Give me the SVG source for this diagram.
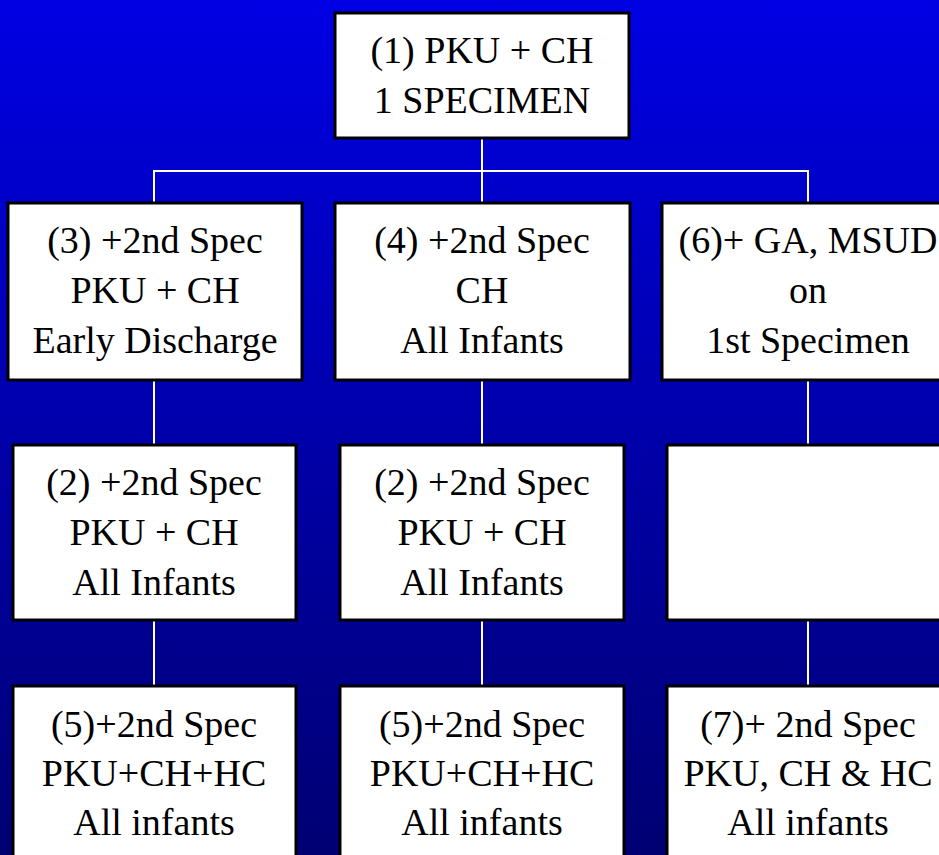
<svg xmlns="http://www.w3.org/2000/svg" width="939" height="855" viewBox="0 0 939 855">
<defs>
<linearGradient id="bg" x1="0" y1="0" x2="0" y2="1">
<stop offset="0" stop-color="#0000E4"/>
<stop offset="1" stop-color="#000072"/>
</linearGradient>
<style>
.box{fill:#fff;stroke:#000;stroke-width:3}
.t{font-size:38px;fill:#000;text-anchor:middle}
.c{stroke:#fff;stroke-width:2;fill:none}
</style>
</defs>
<rect x="0" y="0" width="939" height="855" fill="url(#bg)"/>
<g id="connectors">
<path class="c" d="M482 138V203M154 203V171H808V203M482 171V203"/>
<path class="c" d="M154 380V445M154 620V686"/>
<path class="c" d="M482 380V445M482 620V686"/>
<path class="c" d="M808 380V445M808 620V686"/>
</g>
<g id="nodes" font-family="Liberation Serif, DejaVu Serif, serif">
<g id="n1">
<rect class="box" x="335" y="13" width="294" height="125"/>
<text class="t" x="482" y="63">(1) PKU + CH</text>
<text class="t" x="482" y="113">1 SPECIMEN</text>
</g>
<g id="n3">
<rect class="box" x="8" y="203" width="294" height="177"/>
<text class="t" x="155" y="253">(3) +2nd Spec</text>
<text class="t" x="155" y="303">PKU + CH</text>
<text class="t" x="155" y="353">Early Discharge</text>
</g>
<g id="n4">
<rect class="box" x="335" y="203" width="295" height="177"/>
<text class="t" x="482" y="253">(4) +2nd Spec</text>
<text class="t" x="482" y="303">CH</text>
<text class="t" x="482" y="353">All Infants</text>
</g>
<g id="n6">
<rect class="box" x="662" y="203" width="294" height="177"/>
<text class="t" x="808" y="253">(6)+ GA, MSUD</text>
<text class="t" x="808" y="303">on</text>
<text class="t" x="808" y="353">1st Specimen</text>
</g>
<g id="n2a">
<rect class="box" x="13" y="445" width="283" height="175"/>
<text class="t" x="154" y="495">(2) +2nd Spec</text>
<text class="t" x="154" y="545">PKU + CH</text>
<text class="t" x="154" y="595">All Infants</text>
</g>
<g id="n2b">
<rect class="box" x="340" y="445" width="284" height="175"/>
<text class="t" x="482" y="495">(2) +2nd Spec</text>
<text class="t" x="482" y="545">PKU + CH</text>
<text class="t" x="482" y="595">All Infants</text>
</g>
<g id="nblank">
<rect class="box" x="667" y="445" width="283" height="175"/>
</g>
<g id="n5a">
<rect class="box" x="13" y="686" width="283" height="177"/>
<text class="t" x="154" y="737">(5)+2nd Spec</text>
<text class="t" x="154" y="786">PKU+CH+HC</text>
<text class="t" x="154" y="835">All infants</text>
</g>
<g id="n5b">
<rect class="box" x="340" y="686" width="284" height="177"/>
<text class="t" x="482" y="737">(5)+2nd Spec</text>
<text class="t" x="482" y="786">PKU+CH+HC</text>
<text class="t" x="482" y="835">All infants</text>
</g>
<g id="n7">
<rect class="box" x="667" y="686" width="283" height="177"/>
<text class="t" x="808" y="737">(7)+ 2nd Spec</text>
<text class="t" x="808" y="786">PKU, CH &amp; HC</text>
<text class="t" x="808" y="835">All infants</text>
</g>
</g>
</svg>
